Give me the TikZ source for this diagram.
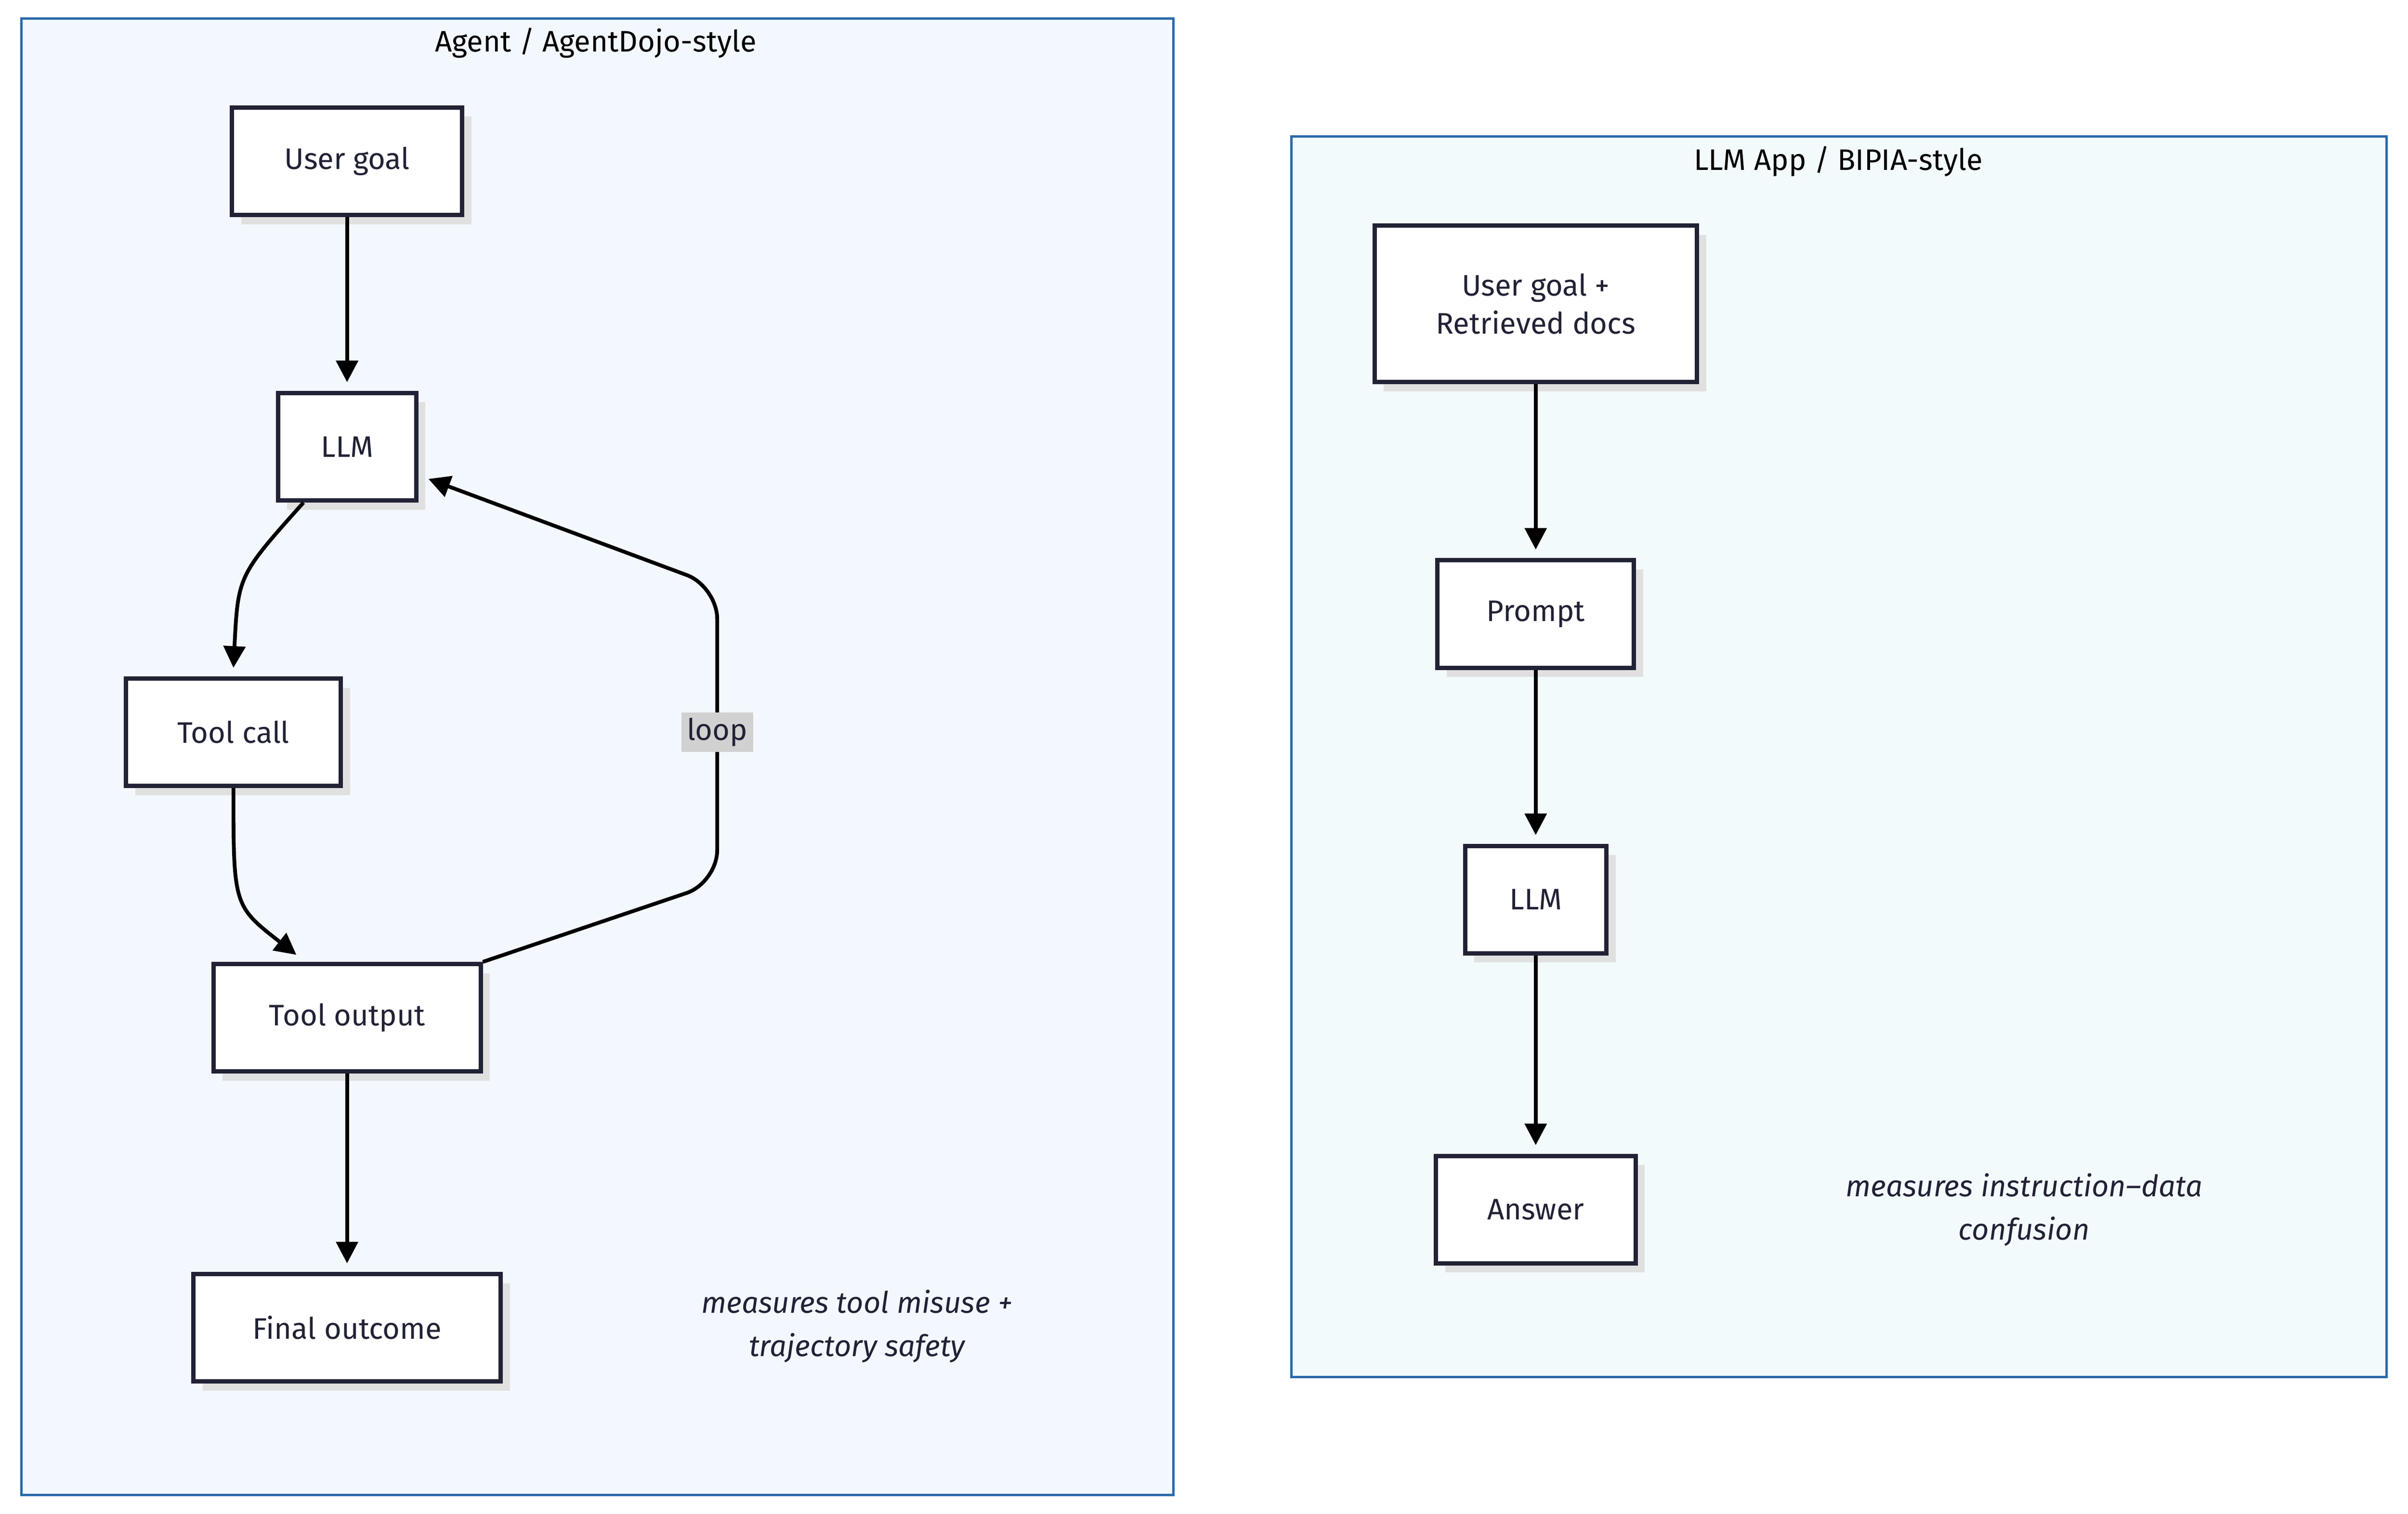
\documentclass[tikz,border=0pt]{standalone}
\usepackage{fontspec}
\setmainfont{Fira Sans}
\usetikzlibrary{arrows.meta}
\definecolor{clfill}{HTML}{F3F8FE}
\definecolor{clfill2}{HTML}{F3FAFC}
\definecolor{cldraw}{HTML}{2A6AAA}
\definecolor{ink}{HTML}{222236}
\begin{document}
\begin{tikzpicture}[x=0.02cm,y=-0.02cm,
  font=\fontsize{11}{14}\selectfont,
  box/.style={draw=ink,line width=1.6pt,fill=white,text=ink,minimum height=1.4cm,align=center,
    preaction={fill=black!12,transform canvas={shift={(0.12cm,-0.12cm)}}}},
  edge/.style={draw=black,line width=1.4pt,-{Triangle[length=8pt,width=8pt]}},
  cl/.style={draw=cldraw,line width=0.9pt},
  note/.style={text=ink,font=\fontsize{11}{16}\selectfont\itshape,align=center}]
\useasboundingbox (0,0) rectangle (1568,986);
\draw[cl,fill=clfill] (14,12) rectangle (764,974);
\draw[cl,fill=clfill2] (841,89) rectangle (1554,897);
\node[text=black] (t1) at (388,28) {Agent / AgentDojo-style};
\node[text=black] (t2) at (1197,105) {LLM App / BIPIA-style};
\node[box,minimum width=3cm] (ug) at (226,105) {User goal};
\node[box,minimum width=1.8cm] (llm) at (226,291) {LLM};
\node[box,minimum width=2.8cm] (tc) at (152,477) {Tool call};
\node[box,minimum width=3.48cm] (to) at (226,663) {Tool output};
\node[box,minimum width=4cm] (fo) at (226,865) {Final outcome};
\node[note] (n1) at (558,864) {measures tool misuse +\\trajectory safety};
\node[box,minimum width=4.2cm,minimum height=2.04cm] (rg) at (1000,198) {User goal +\\Retrieved docs};
\node[box,minimum width=2.56cm] (pr) at (1000,400) {Prompt};
\node[box,minimum width=1.84cm] (llm2) at (1000,586) {LLM};
\node[box,minimum width=2.6cm] (an) at (1000,788) {Answer};
\node[note] (n2) at (1318,788) {measures instruction–data\\confusion};
\draw[edge] (ug) -- (226,249);
\draw[edge] (llm.south west)+(18,0) .. controls (155,375) .. (152,435);
\draw[edge] (tc.south) .. controls (152,590) .. (193,622);
\coordinate (lp) at (467,477);
\draw[edge,rounded corners=12pt] (to.north east) -- (467,575) -- (467,382) -- (279,312);
\node[fill=black!18,text=ink,inner sep=2pt] (ll) at (lp) {loop};
\draw[edge] (to) -- (226,823);
\draw[edge] (rg) -- (1000,358);
\draw[edge] (pr) -- (1000,544);
\draw[edge] (llm2) -- (1000,746);
\end{tikzpicture}
\end{document}
